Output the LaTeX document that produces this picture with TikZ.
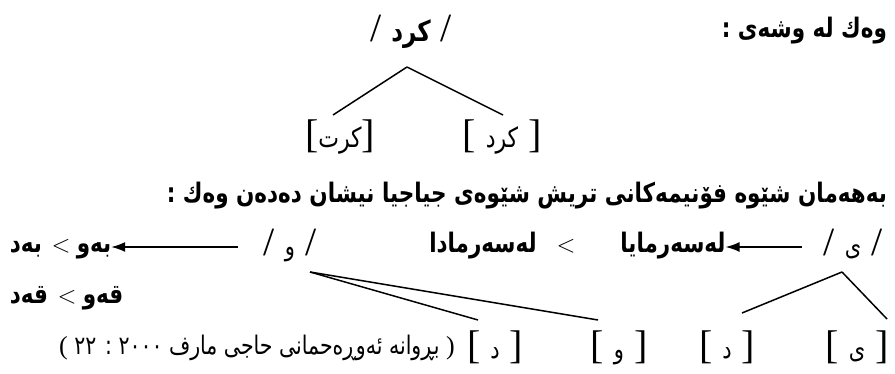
\documentclass[tikz,border=0pt]{standalone}
\usepackage{graphicx}
\usepackage{fontspec}
\setmainfont{Liberation Serif}
\newfontfamily\arfont[Script=Arabic]{DejaVu Sans}
\TeXXeTstate=1
\usetikzlibrary{arrows.meta}
\newcommand\AR[2][21]{\scalebox{1}[1.25]{\fontsize{#1}{#1}\selectfont\arfont\beginR #2\endR}}
\newcommand\ARB[2][21.5]{\scalebox{1}[1.25]{\fontsize{#1}{#1}\selectfont\arfont\bfseries\beginR #2\endR}}
\tikzset{
  txt/.style={inner sep=0pt, outer sep=0pt, anchor=base, font=\fontsize{40}{44}\selectfont},
  sym/.style={inner sep=0pt, outer sep=0pt, anchor=base, font=\fontsize{28}{30}\selectfont},
  leg/.style={line width=1.5pt},
  arr/.style={line width=1.5pt, -{Latex[length=14pt,width=10pt]}}
}
\begin{document}
\begin{tikzpicture}[x=1pt,y=-1pt]
\useasboundingbox (0,0) rectangle (895,374);
% line 1
\node[txt, anchor=base east] (t1) at (887,38) {\ARB{وەك لە وشەی :}};
\node[txt] (kd) at (411,42) {/\hspace{10pt}\ARB[23]{کرد}\hspace{10pt}/};
\coordinate (apex) at (407,67);
\coordinate (kl) at (333,115);
\coordinate (kr) at (503,115);
\node[txt] (kt) at (340,148) {[\AR[22]{کرت}]};
\node[txt] (kd2) at (502,148) {[\ \AR[22]{کرد}\ ]};
\draw[leg] (apex) -- (kl);
\draw[leg] (apex) -- (kr);
% line 2
\node[txt, anchor=base east] (t2) at (887,203) {\ARB{بەهەمان شێوە فۆنیمەکانی تریش شێوەی جیاجیا نیشان دەدەن وەك :}};
% line 3
\node[txt] (bd) at (26,253) {\ARB{بەد}};
\node[sym] (g1) at (61,253) {$<$};
\node[txt] (bw) at (94,253) {\ARB{بەو}};
\node[txt] (vo) at (290,256) {/\ \AR{و}\ /};
\coordinate (a1) at (238,247);
\draw[arr] (a1) -- (bw.east |- a1);
\node[txt] (lsd) at (483,253) {\ARB{لەسەرمادا}};
\node[sym] (g2) at (566,253) {$<$};
\node[txt] (lsy) at (673,253) {\ARB{لەسەرمایا}};
\node[txt] (yi) at (853,256) {/\ \AR{ی}\ /};
\coordinate (a2) at (802,247);
\draw[arr] (a2) -- (lsy.east |- a2);
% line 4
\node[txt] (qd) at (29,304) {\ARB{قەد}};
\node[sym] (g3) at (67,304) {$<$};
\node[txt] (qw) at (103,304) {\ARB{قەو}};
% trees
\coordinate (va) at (310,272);
\coordinate (ya) at (842,272);
\coordinate (e1) at (478,320);
\coordinate (e2) at (598,320);
\coordinate (e3) at (742,313);
\coordinate (e4) at (887,319);
\draw[leg] (va) -- (e1);
\draw[leg] (va) -- (e2);
\draw[leg] (ya) -- (e3);
\draw[leg] (ya) -- (e4);
% bottom row
\node[txt, font=\fontsize{26}{28}\selectfont] (cit) at (257,354) {(\ \AR[20.5]{بڕوانە ئەوڕەحمانی حاجی مارف ٢٠٠٠ : ٢٢}\ )};
\node[txt] (b1) at (495,358) {[\ \AR{د}\ ]};
\node[txt] (b2) at (619,358) {[\ \AR{و}\ ]};
\node[txt] (b3) at (727,358) {[\ \AR{د}\ ]};
\node[txt] (b4) at (857,358) {[\ \AR{ی}\ ]};
\end{tikzpicture}
\end{document}
